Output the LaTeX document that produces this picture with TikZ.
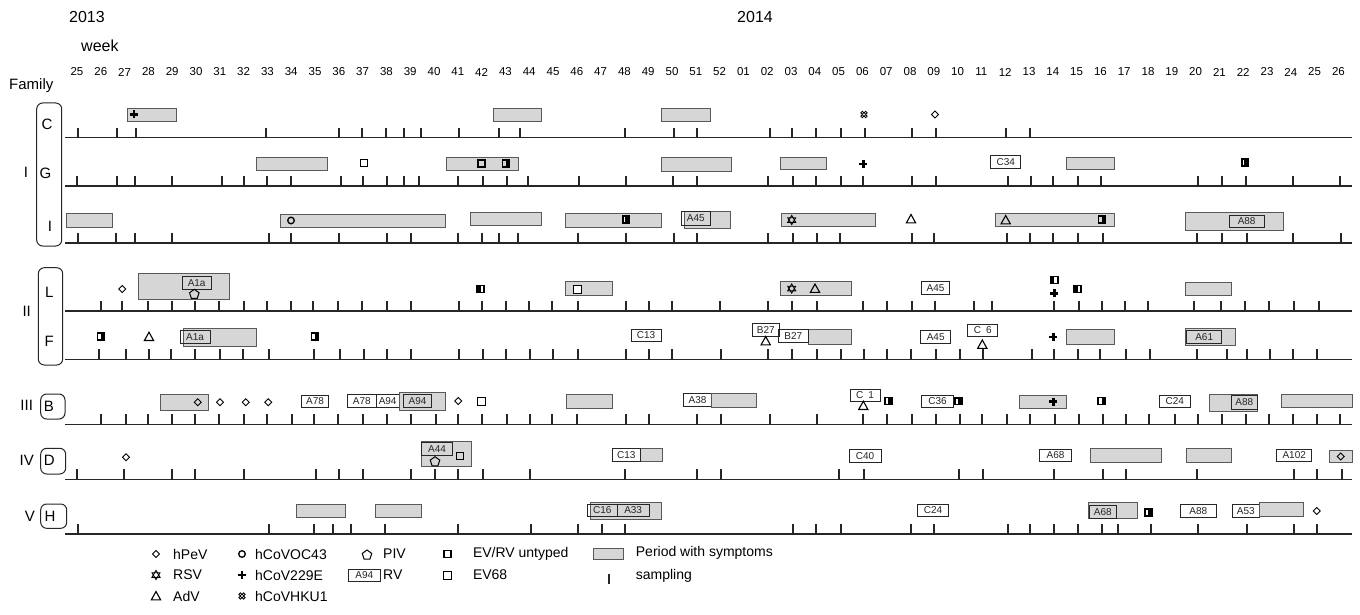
\documentclass[tikz,border=0pt]{standalone}
\usepackage{fontspec}
\setmainfont{Liberation Sans}
\tikzset{
 base/.style={line width=1.6pt, draw=black!85},
 tk/.style={line width=2pt, draw=black!85},
 symp/.style={draw=black!65, line width=0.9pt, fill=black!16},
 labbox/.style={draw=black!85, line width=0.9pt},
 labtxt/.style={font=\fontsize{10}{10}\selectfont, inner sep=0pt, text=black!85},
 mk/.style={line width=0.9pt, draw=black},
 grp/.style={draw=black!85, line width=1pt, rounded corners=6pt},
 big/.style={font=\fontsize{15}{15}\selectfont, inner sep=0pt},
 leg/.style={font=\fontsize{14}{14}\selectfont, inner sep=0pt, anchor=west},
}
\newcommand\Ticks[2]{\foreach \t in {#2} \draw[tk] (\t,#1) -- (\t,#1-10);}
\newcommand\Base[1]{\draw[base] (65,#1) -- (1352,#1);}
\newcommand\Symp[4]{\draw[symp] (#1,#3) rectangle (#2,#4);}
\newcommand\Lab[5]{\draw[labbox] (#1,#3) rectangle (#2,#4); \node[labtxt] at ({(#1+#2)/2},{(#3+#4)/2}) {#5};}
\newcommand\Hpev[2]{\draw[mk] (#1,#2-3.5) -- (#1+3.5,#2) -- (#1,#2+3.5) -- (#1-3.5,#2) -- cycle;}
\newcommand\Oc[2]{\draw[mk,line width=1.3pt] (#1,#2) circle[radius=3.3pt];}
\newcommand\Rsv[2]{\draw[mk] (#1,#2-4.6) -- (#1+4,#2+2.3) -- (#1-4,#2+2.3) -- cycle; \draw[mk] (#1,#2+4.6) -- (#1+4,#2-2.3) -- (#1-4,#2-2.3) -- cycle;}
\newcommand\Adv[2]{\draw[mk,line width=1.1pt] (#1,#2-4.5) -- (#1+4.6,#2+3.8) -- (#1-4.6,#2+3.8) -- cycle;}
\newcommand\Cpl[2]{\draw[line width=2.4pt] (#1-4,#2) -- (#1+4,#2) (#1,#2-4) -- (#1,#2+4);}
\newcommand\Hku[2]{\foreach \a/\b in {-1.7/-1.7,1.7/-1.7,-1.7/1.7,1.7/1.7} \draw[line width=0.8pt] (#1+\a,#2+\b) circle[radius=1.5pt];}
\newcommand\Piv[2]{\draw[mk,line width=1pt] (#1,#2-5) -- (#1+4.76,#2-1.55) -- (#1+2.94,#2+4.05) -- (#1-2.94,#2+4.05) -- (#1-4.76,#2-1.55) -- cycle;}
\newcommand\EvW[2]{\draw[line width=1.5pt] (#1-3.5,#2-3.5) rectangle (#1+3.5,#2+3.5);}
\newcommand\EvL[2]{\fill (#1-4.2,#2-4.2) rectangle (#1,#2+4.2); \EvW{#1}{#2}}
\newcommand\EvR[2]{\fill (#1,#2-4.2) rectangle (#1+4.2,#2+4.2); \EvW{#1}{#2}}
\newcommand\EvK[2]{\fill (#1-4.2,#2-4.2) rectangle (#1+4.2,#2+4.2); \fill[white] (#1-2.2,#2-2.5) rectangle (#1-0.6,#2+2.5);}
\newcommand\Evs[2]{\draw[line width=1pt, fill=white] (#1-4,#2-4) rectangle (#1+4,#2+4);}
\begin{document}
\begin{tikzpicture}[x=1pt,y=-1pt]
\useasboundingbox[fill=white] (0,0) rectangle (1360,615);
% header
\node[anchor=west, font=\fontsize{16}{16}\selectfont, inner sep=0] (y13) at (69,17) {2013};
\node[anchor=west, font=\fontsize{16}{16}\selectfont, inner sep=0] (y14) at (737,17) {2014};
\node[anchor=west, font=\fontsize{16}{16}\selectfont, inner sep=0] (wk) at (81,46) {week};
\foreach \w [count=\i from 0] in {25,26,27,28,29,30,31,32,33,34,35,36,37,38,39,40,41,42,43,44,45,46,47,48,49,50,51,52,01,02,03,04,05,06,07,08,09,10,11,12,13,14,15,16,17,18,19,20,21,22,23,24,25,26}
  \node[font=\fontsize{11.5}{11.5}\selectfont, inner sep=0] at ({77+23.8*\i},72) {\w};
\node[anchor=west, font=\fontsize{15}{15}\selectfont, inner sep=0] (fam) at (9,86) {Family};
% groups
\draw[grp] (36.7,103) rectangle (61.7,246);
\node[big] at (47,124) {C};
\node[big] at (45.5,173) {G};
\node[big] at (50,226.5) {I};
\node[big] at (26,172.5) {I};
\draw[grp] (38.3,267.7) rectangle (62.7,365);
\node[big] at (49.3,292) {L};
\node[big] at (49.3,341.7) {F};
\node[big] at (26.7,311.7) {II};
\draw[grp] (40.7,394) rectangle (65,419);
\node[big] at (49,406.7) {B};
\node[big] at (26.7,405.5) {III};
\draw[grp] (40.7,448.3) rectangle (65.7,474);
\node[big] at (49.3,460.5) {D};
\node[big] at (26.7,460.5) {IV};
\draw[grp] (40.7,504) rectangle (66.7,528.3);
\node[big] at (50,516.7) {H};
\node[big] at (30,516.7) {V};
% baselines and ticks
\Base{137.7}\Ticks{137.7}{77.7,117.3,135.7,266,339,362,386,404,420.7,459,499,519.7,625,674,696.7,770,791.7,815.7,840.7,865.3,911.7,936,1006,1030}
\Base{186}\Ticks{186}{77.3,116.7,135.3,172.3,222,244,266.7,290.7,340.7,363.3,387.3,404.3,419,458.3,483.3,507.3,528.3,579.3,625.7,672.7,696.7,768.3,792.7,816,840.7,863.3,911.7,936,1008.3,1030.7,1053.3,1078.3,1101,1198.3,1221.7,1246,1293.3,1340}
\Base{242.7}\Ticks{242.7}{77.7,116,135,172.3,268.7,291,339.3,387.3,410.7,458.3,481.7,499,518.3,578.3,625.7,674,696.7,768.3,793.3,816.7,840,911.7,934.3,1006.7,1030,1053.3,1077.7,1103.3,1197.3,1221.7,1246.7,1293.3,1340.7}
\Base{311}\Ticks{311}{100.7,122.3,147.7,171.7,195,219.3,244,266.7,291,313.3,337.7,362.3,386.7,410.7,459,481.7,505.7,529,552.3,577.7,626,649,671.7,720,768.3,792.3,816.7,863.3,887.3,911.7,935,974,992.3,1054.3,1079,1101.7,1125,1148.3,1194.3,1220.7,1245,1269.3,1294.3,1319}
\Base{359.3}\Ticks{359.3}{99.3,126,149,170.7,195,220,243.3,269,314.3,340,364,386.7,410.7,459,482.7,506,530,553.3,578.3,625.7,649,672.3,720.7,767.7,791.7,816.7,840.7,864.3,887.3,910.7,935.7,960,983.3,1031.7,1054.3,1078.3,1100,1125.7,1150,1196.7,1227.3,1246.7,1270,1293.3,1316.7}
\Base{424.3}\Ticks{424.3}{100.7,126,148.3,172.3,195,219,244,266.7,292.3,314.3,338.3,362.7,387.3,411,436,458.3,481.7,507.3,530,552.3,577.3,625.7,649,697.3,720.7,770,816.7,863.3,887.3,911.7,936,960,982.3,1006.7,1030,1055,1079.3,1102.7,1126,1149.3,1175,1198.3,1221.7,1245.7,1269,1293.3,1316.7,1340}
\Base{479.3}\Ticks{479.3}{76.7,124.3,171.7,195,244,316,339,362.7,410.7,435,458.3,483.3,530,625,697.3,720.7,839.3,864.3,959.3,982.7,1054.3,1102.7,1126,1196.7,1294.3,1316.7,1341.7}
\Base{534}\Ticks{534}{77.7,269.3,314.3,332.7,350.7,385,458.3,530.7,577.7,601.7,625,793.3,815.7,840.7,911,934.3,1008.3,1030,1054.3,1077.7,1101.7,1118.3,1151,1197.7,1246.7,1294.3,1316.7}
% row C
\Symp{127}{176}{108}{121.5}\Cpl{134}{114.5}
\Symp{493}{541}{108}{121.5}
\Symp{661}{710}{108}{121.5}
\Hku{864}{114.5}
\Hpev{935}{114.5}
% row G
\Symp{256.7}{327.7}{157}{170}
\EvW{364}{163}
\Symp{446.7}{518.3}{157.3}{170}
\EvW{481.7}{163.5}
\EvR{506}{163.5}
\Symp{661.7}{731.7}{157.7}{171}
\Symp{780}{826.7}{157.3}{169}
\Cpl{863.3}{164}
\Lab{990.7}{1020.7}{155}{168.3}{C34}
\Symp{1066.7}{1114.3}{157}{169}
\EvK{1245}{162.7}
% row I
\Symp{66.7}{112.3}{213.3}{227.3}
\Symp{280}{445.7}{214}{227.3}
\Oc{291}{220.5}
\Symp{470.7}{541.7}{212.3}{225.7}
\Symp{565.3}{661.7}{213}{227.3}
\EvK{625.7}{219.5}
\Symp{684.3}{730.7}{211.7}{228.3}
\Lab{681}{710.7}{211.7}{225}{A45}
\Symp{781}{875.7}{213.3}{226.7}
\Rsv{791.7}{220}
\Adv{911}{219}
\Symp{995.7}{1114.3}{213.3}{226.7}
\Adv{1005.7}{220}
\EvR{1102}{219.5}
\Symp{1185.7}{1283.3}{212.7}{230}
\Lab{1229.3}{1264}{215}{227.7}{A88}
% row L
\Hpev{122.3}{289}
\Symp{138.3}{229.3}{273.3}{299}
\Lab{182.3}{211}{276.7}{289}{A1a}
\Piv{194.3}{294.3}
\EvL{480.7}{289}
\Symp{565.7}{612.7}{281.7}{295.7}
\Evs{577.7}{289}
\Symp{780}{851.7}{281}{295.7}
\Rsv{791.7}{288.5}
\Adv{815}{288.5}
\Lab{921.7}{949.3}{281}{294.3}{A45}
\EvL{1054.3}{280}
\Cpl{1054.3}{293.3}
\EvL{1077.7}{289}
\Symp{1185.7}{1231.7}{282.3}{295.7}
% row F
\EvR{101}{336.7}
\Adv{149}{336.7}
\Symp{183.3}{256.7}{328.3}{346.7}
\Lab{180}{210}{330}{343.3}{A1a}
\EvR{315}{336.7}
\Lab{631}{661}{329}{341.7}{C13}
\Lab{752.3}{779.3}{323.3}{336}{B27}
\Adv{765.7}{341}
\Symp{808.3}{851.7}{329.3}{344}
\Lab{778.3}{808.3}{329.3}{342.3}{B27}
\Lab{920.7}{950.7}{330}{343.3}{A45}
\Lab{967.7}{997.7}{324}{336.7}{C\hspace{5pt}6}
\Adv{982.3}{344.5}
\Cpl{1053.3}{336.7}
\Symp{1066.7}{1114.3}{329}{344.3}
\Symp{1185.7}{1235}{328.3}{345.7}
\Lab{1186.7}{1221.7}{330}{343.3}{A61}
% row B
\Symp{160.7}{208.3}{394.3}{410}
\Hpev{197.7}{402.3}
\Hpev{220}{402.3}\Hpev{245.7}{402.3}\Hpev{268.3}{402.3}
\Lab{301.7}{328.3}{395}{407.7}{A78}
\Lab{347.7}{376}{394.5}{407.5}{A78}
\Lab{376}{399.3}{394.5}{407.5}{A94}
\Symp{399.3}{445.7}{392.3}{410.7}
\Lab{403.3}{431.7}{394.5}{407.5}{A94}
\Hpev{458.3}{401}
\Evs{481.7}{401}
\Symp{566.7}{612.3}{394.3}{408.3}
\Lab{683.3}{711.7}{393.3}{406.7}{A38}
\Symp{711.7}{756.7}{393.3}{407.3}
\Lab{850}{880}{389}{401.7}{C\hspace{5pt}1}
\Adv{863.3}{405.7}
\EvR{888.3}{401}
\Lab{921.7}{953.3}{395}{407.7}{C36}
\EvK{958.3}{401}
\Symp{1019.3}{1066}{395}{408.3}
\Cpl{1053.3}{401.5}
\EvR{1101.7}{401}
\Lab{1159}{1190.7}{395}{407.7}{C24}
\Symp{1209.3}{1257.7}{394.3}{411}
\Lab{1231}{1257.7}{395.7}{409}{A88}
\Symp{1281.7}{1352.3}{394.3}{407.7}
% row D
\Hpev{126}{457.3}
\Symp{421.7}{471}{441.7}{466}
\Lab{421.7}{452.3}{442.3}{455}{A44}
\Piv{435}{461.7}
\EvW{460}{456}
\Symp{640}{662.3}{448.3}{461.7}
\Lab{612.7}{640}{448.3}{461.7}{C13}
\Lab{849}{881}{449.3}{462.7}{C40}
\Lab{1039.3}{1071.7}{449}{461.7}{A68}
\Symp{1090}{1161}{448.3}{462.7}
\Symp{1186}{1231.7}{448.3}{462.7}
\Lab{1276.7}{1311.7}{449}{461.7}{A102}
\Symp{1329}{1352.3}{450}{462}
\Hpev{1340.7}{456.5}
% row H
\Symp{296.7}{345}{504.3}{517.7}
\Symp{375.7}{421.7}{504.3}{517.7}
\Symp{590}{661.7}{502.7}{519.3}
\Lab{587.3}{617.3}{504.3}{516.7}{C16}
\Lab{617.3}{649}{504}{516.3}{A33}
\Lab{917.7}{948.3}{504}{516.7}{C24}
\Symp{1088.3}{1137.7}{502.7}{518}
\Lab{1089}{1116.7}{505.7}{518.3}{A68}
\EvK{1148.3}{512.3}
\Lab{1180.7}{1216}{504.3}{517}{A88}
\Lab{1232.3}{1259.3}{504.3}{517}{A53}
\Symp{1259.3}{1303.3}{502.7}{516.7}
\Hpev{1316.7}{511}
% legend
\Hpev{156}{554}\node[leg] at (173,554) {hPeV};
\Rsv{156}{575}\node[leg] at (173,575) {RSV};
\Adv{156}{596}\node[leg] at (173,596) {AdV};
\Oc{242}{554}\node[leg] at (255,554) {hCoVOC43};
\Cpl{242}{575}\node[leg] at (255,575) {hCoV229E};
\Hku{242}{596}\node[leg] at (255,596) {hCoVHKU1};
\Piv{367}{555}\node[leg] at (383,554) {PIV};
\Lab{348.7}{380}{569}{581}{A94}\node[leg] at (383,575) {RV};
\EvW{447.3}{554}\node[leg] at (472.8,554) {EV/RV untyped};
\Evs{447.3}{575}\node[leg] at (472.8,575) {EV68};
\Symp{593.3}{623.2}{548}{559}\node[leg] at (635.7,553) {Period with symptoms};
\draw[tk] (609,584) -- (609,574);\node[leg] at (635.7,576) {sampling};
\end{tikzpicture}
\end{document}
